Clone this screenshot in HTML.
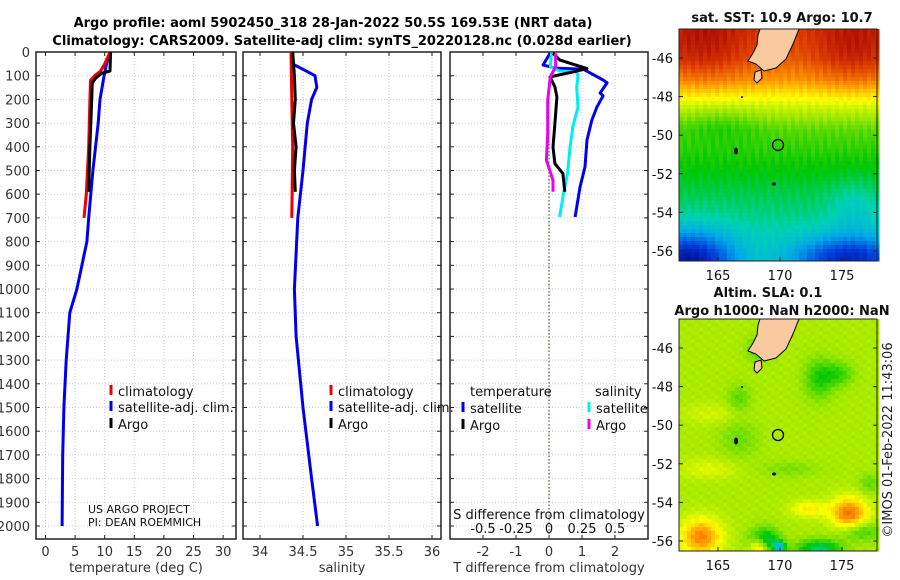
<!DOCTYPE html>
<html><head><meta charset="utf-8">
<style>
html,body{margin:0;padding:0;background:#fff;}
svg{display:block;font-family:"DejaVu Sans","Liberation Sans",sans-serif;}
</style></head>
<body>
<svg id="fig" width="900" height="580" viewBox="0 0 900 580" xmlns="http://www.w3.org/2000/svg">
<text x="333" y="27" font-size="13" font-weight="bold" text-anchor="middle">Argo profile: aoml 5902450_318 28-Jan-2022 50.5S 169.53E (NRT data)</text>
<text x="342" y="45" font-size="13" font-weight="bold" text-anchor="middle">Climatology: CARS2009. Satellite-adj clim: synTS_20220128.nc (0.028d earlier)</text>
<g id="panels"></g>
<g id="maps"></g>
<text transform="translate(892,440) rotate(-90)" font-size="13" text-anchor="middle" fill="#222">©IMOS 01-Feb-2022 11:43:06</text>
</svg>
<script>
// ---------- data ----------
const depthTicks=[0,100,200,300,400,500,600,700,800,900,1000,1100,1200,1300,1400,1500,1600,1700,1800,1900,2000];
const tTicks=[0,5,10,15,20,25,30];
const sTicks=[34,34.5,35,35.5,36];
const dTTicks=[-2,-1,0,1,2];
const dSTicks=[-0.5,-0.25,0,0.25,0.5];
const dSTickLabels=["-0.5","-0.25","0","0.25","0.5"];

const tClimDepth=[0,50,80,100,120,200,400,600,700];
const tClimVal=[10.9,10.0,9.3,8.3,7.6,7.5,7.3,6.9,6.5];
const tSatDepth=[0,50,100,200,300,500,700,800,1000,1100,1300,1500,1700,2000];
const tSatVal=[10.9,10.3,9.9,9.2,8.9,8.0,7.3,7.0,5.3,4.1,3.5,3.1,2.9,2.8];
const tArgoDepth=[0,80,90,110,130,200,400,590];
const tArgoVal=[11.0,10.9,9.5,8.5,7.9,7.8,7.5,7.3];

const sClimDepth=[0,200,400,700];
const sClimVal=[34.36,34.37,34.38,34.37];
const sSatDepth=[0,50,100,150,200,300,500,700,1000,1200,1500,1800,2000];
const sSatVal=[34.37,34.38,34.64,34.66,34.6,34.55,34.5,34.44,34.4,34.42,34.5,34.6,34.67];
const sArgoDepth=[0,100,200,300,400,500,590];
const sArgoVal=[34.38,34.4,34.41,34.39,34.42,34.4,34.41];

const dTSatDepth=[5,55,68,72,118,130,173,185,232,287,371,485,570,696];
const dTSatVal=[0.03,-0.18,0.18,1.03,1.64,1.76,1.55,1.64,1.45,1.3,1.15,1.09,0.94,0.79];
const dTArgoDepth=[5,34,70,84,105,147,190,302,401,471,513,590];
const dTArgoVal=[0.12,0.33,1.15,0.73,0.03,0.18,0.24,0.18,0.12,0.18,0.42,0.48];
const dSSatDepth=[5,62,80,84,100,150,232,316,401,513,598,696];
const dSSatVal=[0.02,0.01,0.08,0.21,0.22,0.21,0.22,0.18,0.16,0.14,0.11,0.08];
const dSArgoDepth=[5,62,105,204,345,457,541,590];
const dSArgoVal=[0.05,0.05,0.01,-0.01,-0.01,-0.02,0.03,0.03];

// ---------- helpers ----------
const NS="http://www.w3.org/2000/svg";
function mk(tag,attrs,parent){const e=document.createElementNS(NS,tag);for(const k in attrs)e.setAttribute(k,attrs[k]);parent.appendChild(e);return e;}
const TOP=52,BOT=539;
function yD(d){return TOP+d*0.237;}
const P=document.getElementById('panels');

function panel(name,x0,x1,xs,xticks,xlabels,xtitle,withY){
  const g=mk('g',{},P);
  
  
  depthTicks.forEach(d=>{const l=mk('line',{x1:x0,x2:x1,y1:yD(d),y2:yD(d),stroke:'#c8c8ee','stroke-width':1,'stroke-dasharray':'1,2'},g);
    });
  xticks.forEach(v=>{const l=mk('line',{x1:xs(v),x2:xs(v),y1:TOP,y2:BOT,stroke:'#c8c8ee','stroke-width':1,'stroke-dasharray':'1,2'},g);
    });
  const fr=mk('rect',{x:x0,y:TOP,width:x1-x0,height:BOT-TOP,fill:'none',stroke:'#222','stroke-width':1.5},g);
  
  depthTicks.forEach(d=>{
    mk('line',{x1:x0,x2:x0+4,y1:yD(d),y2:yD(d),stroke:'#222'},g);
    mk('line',{x1:x1-4,x2:x1,y1:yD(d),y2:yD(d),stroke:'#222'},g);
    if(withY){const t=mk('text',{x:x0-6,y:yD(d)+5,'font-size':13,'text-anchor':'end',fill:'#333'},g);t.textContent=d;
      }
  });
  xticks.forEach((v,i)=>{
    mk('line',{x1:xs(v),x2:xs(v),y1:BOT-4,y2:BOT,stroke:'#222'},g);
    mk('line',{x1:xs(v),x2:xs(v),y1:TOP,y2:TOP+4,stroke:'#222'},g);
    const t=mk('text',{x:xs(v),y:556,'font-size':13,'text-anchor':'middle',fill:'#333'},g);t.textContent=xlabels[i];
    
  });
  const xt=mk('text',{x:(x0+x1)/2,y:572,'font-size':13,'text-anchor':'middle',fill:'#333'},g);xt.textContent=xtitle;
  
  return g;
}
function line(g,xs,depths,vals,color,name){
  const pts=depths.map((d,i)=>xs(vals[i]).toFixed(1)+','+yD(d).toFixed(1)).join(' ');
  const p=mk('polyline',{points:pts,fill:'none',stroke:color,'stroke-width':3,'stroke-linejoin':'round'},g);
  
}
function legend(g,x,y,color,label,name){
  const r=mk('rect',{x:x-1.5,y:y-11,width:3,height:10,fill:color},g);
  const t=mk('text',{x:x+7,y:y,'font-size':13,fill:'#111'},g);t.textContent=label;
  
  
}
function txt(g,x,y,s,size,name,anchor){const t=mk('text',{x:x,y:y,'font-size':size,fill:'#111','text-anchor':anchor||'start'},g);t.textContent=s;
  return t;}

// panel 1
const xT=v=>45.5+v*5.92;
const g1=panel('temperature-panel',36,236,xT,tTicks,tTicks.map(String),'temperature (deg C)',true);
line(g1,xT,tSatDepth,tSatVal,'#0000ee','temp-satellite-line');
line(g1,xT,tClimDepth,tClimVal,'#ee0000','temp-climatology-line');
line(g1,xT,tArgoDepth,tArgoVal,'#000','temp-argo-line');
legend(g1,111,396,'#ee0000','climatology','legend-climatology');
legend(g1,111,412,'#0000ee','satellite-adj. clim.','legend-satellite');
legend(g1,111,429,'#000','Argo','legend-argo');
txt(g1,88,513,'US ARGO PROJECT',11,'project-label');
txt(g1,88,526,'PI: DEAN ROEMMICH',11,'pi-label');

// panel 2
const xS=v=>260+(v-34)*86;
const g2=panel('salinity-panel',243,441,xS,sTicks,sTicks.map(String),'salinity',false);
line(g2,xS,sSatDepth,sSatVal,'#0000ee','sal-satellite-line');
line(g2,xS,sClimDepth,sClimVal,'#ee0000','sal-climatology-line');
line(g2,xS,sArgoDepth,sArgoVal,'#000','sal-argo-line');
legend(g2,331,396,'#ee0000','climatology','legend-climatology');
legend(g2,331,412,'#0000ee','satellite-adj. clim.','legend-satellite');
legend(g2,331,429,'#000','Argo','legend-argo');

// panel 3
const xdT=v=>549+v*33;
const xdS=v=>549+v*132;
const g3=panel('difference-panel',450,648,xdT,dTTicks,dTTicks.map(String),'T difference from climatology',false);
const zl=mk('line',{x1:549,x2:549,y1:88,y2:BOT,stroke:'#4a6a2a','stroke-width':1.2,'stroke-dasharray':'1.5,2'},g3);

line(g3,xdT,dTSatDepth,dTSatVal,'#0000ee','dT-satellite-line');
line(g3,xdS,dSSatDepth,dSSatVal,'#00eeee','dS-satellite-line');
line(g3,xdT,dTArgoDepth,dTArgoVal,'#000','dT-argo-line');
line(g3,xdS,dSArgoDepth,dSArgoVal,'#ee00ee','dS-argo-line');
txt(g3,470,396,'temperature',13,'legend-temperature-header');
txt(g3,595,396,'salinity',13,'legend-salinity-header');
legend(g3,463,413,'#0000ee','satellite','legend-t-satellite');
legend(g3,463,430,'#000','Argo','legend-t-argo');
legend(g3,589,413,'#00eeee','satellite','legend-s-satellite');
legend(g3,589,430,'#ee00ee','Argo','legend-s-argo');
txt(g3,549,519,'S difference from climatology',13,'s-axis-title','middle');
dSTicks.forEach((v,i)=>txt(g3,xdS(v),533,dSTickLabels[i],13,'s-tick-label','middle'));

// ---------- maps ----------
const M=document.getElementById('maps');
const MX0=679,MX1=877;
function lonX(l){return 718+(l-165)*12.4;}
const cmapPos=[0,0.15,0.3,0.4,0.5,0.6,0.7,0.8,0.9,1.0];
const cmapCol=[[0,0,130],[0,60,220],[0,170,230],[0,210,180],[0,200,0],[150,230,0],[255,255,0],[255,150,0],[220,60,0],[160,0,0]];
function cmap(v){v=Math.max(0,Math.min(1,v));
  for(let i=1;i<cmapPos.length;i++){if(v<=cmapPos[i]){const t=(v-cmapPos[i-1])/(cmapPos[i]-cmapPos[i-1]);
    const a=cmapCol[i-1],b=cmapCol[i];return 'rgb('+[0,1,2].map(k=>Math.round(a[k]+t*(b[k]-a[k]))).join(',')+')';}}
  return 'rgb(160,0,0)';}
function lerp(xs,ys,x){if(x<=xs[0])return ys[0];for(let i=1;i<xs.length;i++){if(x<=xs[i]){const t=(x-xs[i-1])/(xs[i]-xs[i-1]);return ys[i-1]+t*(ys[i]-ys[i-1]);}}return ys[ys.length-1];}
function gauss(x,y,cx,cy,sx,sy){const dx=(x-cx)/sx,dy=(y-cy)/sy;return Math.exp(-(dx*dx+dy*dy));}
function sstField(x,y){
  let v=lerp([0,30,50,65,80,100,140,170,200,232],[0.9,0.86,0.8,0.72,0.64,0.56,0.5,0.45,0.41,0.4],y);
  v+=0.08*gauss(x,y,25,15,45,40)+0.08*gauss(x,y,175,20,40,40);
  v-=0.04*gauss(x,y,40,95,40,20);
  v-=0.35*gauss(x,y,10,232,45,28)+0.3*gauss(x,y,170,230,55,22);
  v-=0.06*gauss(x,y,175,180,25,30);
  v+=Math.sin(x*0.9+y*1.7)*0.012;
  return v;}
function slaField(x,y){
  let v=0.62;
  const blobs=[[22,218,20,18,0.2],[170,195,18,16,0.22],[80,228,9,10,0.2],[130,190,18,8,0.1],[85,222,14,12,-0.2],[140,230,22,9,-0.18],[100,228,6,6,-0.25],[180,212,22,10,-0.1],[30,150,30,10,0.05],[140,60,15,20,-0.1],[160,55,15,12,-0.08],[110,150,30,8,-0.04],[35,95,30,10,0.04],[60,120,20,20,-0.05],[190,165,10,10,-0.06],[60,80,12,15,-0.06],[80,30,12,12,-0.08]];
  blobs.forEach(b=>{v+=b[4]*gauss(x,y,b[0],b[1],b[2],b[3]);});
  v+=Math.sin(x*0.5+y*0.9)*0.01;
  return v;}
function map(name,y0,field,title,titleY){
  const g=mk('g',{},M);
  
  const W=MX1-MX0,H=232,c=4;
  for(let y=0;y<H;y+=c)for(let x=0;x<W;x+=c){
    mk('rect',{x:MX0+x,y:y0+y,width:c+0.5,height:c+0.5,fill:cmap(field(x+2,y+2))},g);}
  const dy=y0-29;
  const land=mk('polygon',{points:[[760,29],[799,29],[793,44],[786,59],[776,68],[764,71],[756,64],[748,61],[753,53],[757,45],[758,35]].map(p=>p[0]+','+(p[1]+dy)).join(' '),fill:'#f9c9a0',stroke:'#000','stroke-width':1},g);
  
  const st=mk('polygon',{points:[[755,72],[761,70],[762,78],[757,83],[754,80]].map(p=>p[0]+','+(p[1]+dy)).join(' '),fill:'#f9c9a0',stroke:'#000','stroke-width':1},g);
  
  mk('ellipse',{cx:736,cy:151+dy,rx:2,ry:3.5,fill:'#000'},g);
  mk('ellipse',{cx:774,cy:184+dy,rx:2,ry:1.5,fill:'#000'},g);
  mk('circle',{cx:742,cy:97+dy,r:1,fill:'#000'},g);
  const ci=mk('circle',{cx:778,cy:145+dy,r:5.5,fill:'none',stroke:'#000','stroke-width':1.3},g);
  
  mk('rect',{x:MX0,y:y0,width:W,height:H,fill:'none',stroke:'#222','stroke-width':1},g);
  [-46,-48,-50,-52,-54,-56].forEach(lat=>{const yy=58+(-46-lat)*19.3+dy;
    mk('line',{x1:MX0,x2:MX0+4,y1:yy,y2:yy,stroke:'#222'},g);mk('line',{x1:MX1-4,x2:MX1,y1:yy,y2:yy,stroke:'#222'},g);
    txt(g,673,yy+5,String(lat),13,'map-lat-label','end');});
  [165,170,175].forEach(l=>{mk('line',{x1:lonX(l),x2:lonX(l),y1:y0+H-4,y2:y0+H,stroke:'#222'},g);
    txt(g,lonX(l),y0+H+19,String(l),13,'map-lon-label','middle');});
  title.forEach((t,i)=>txt(g,i==0&&title.length>1?768:782,titleY[i],t,13,'map-title','middle').setAttribute('font-weight','bold'));
}
map('sst-map',29,sstField,['sat. SST: 10.9 Argo: 10.7'],[22]);
map('sla-map',319,slaField,['Altim. SLA: 0.1','Argo h1000: NaN h2000: NaN'],[297,315]);
</script>
</body></html>
